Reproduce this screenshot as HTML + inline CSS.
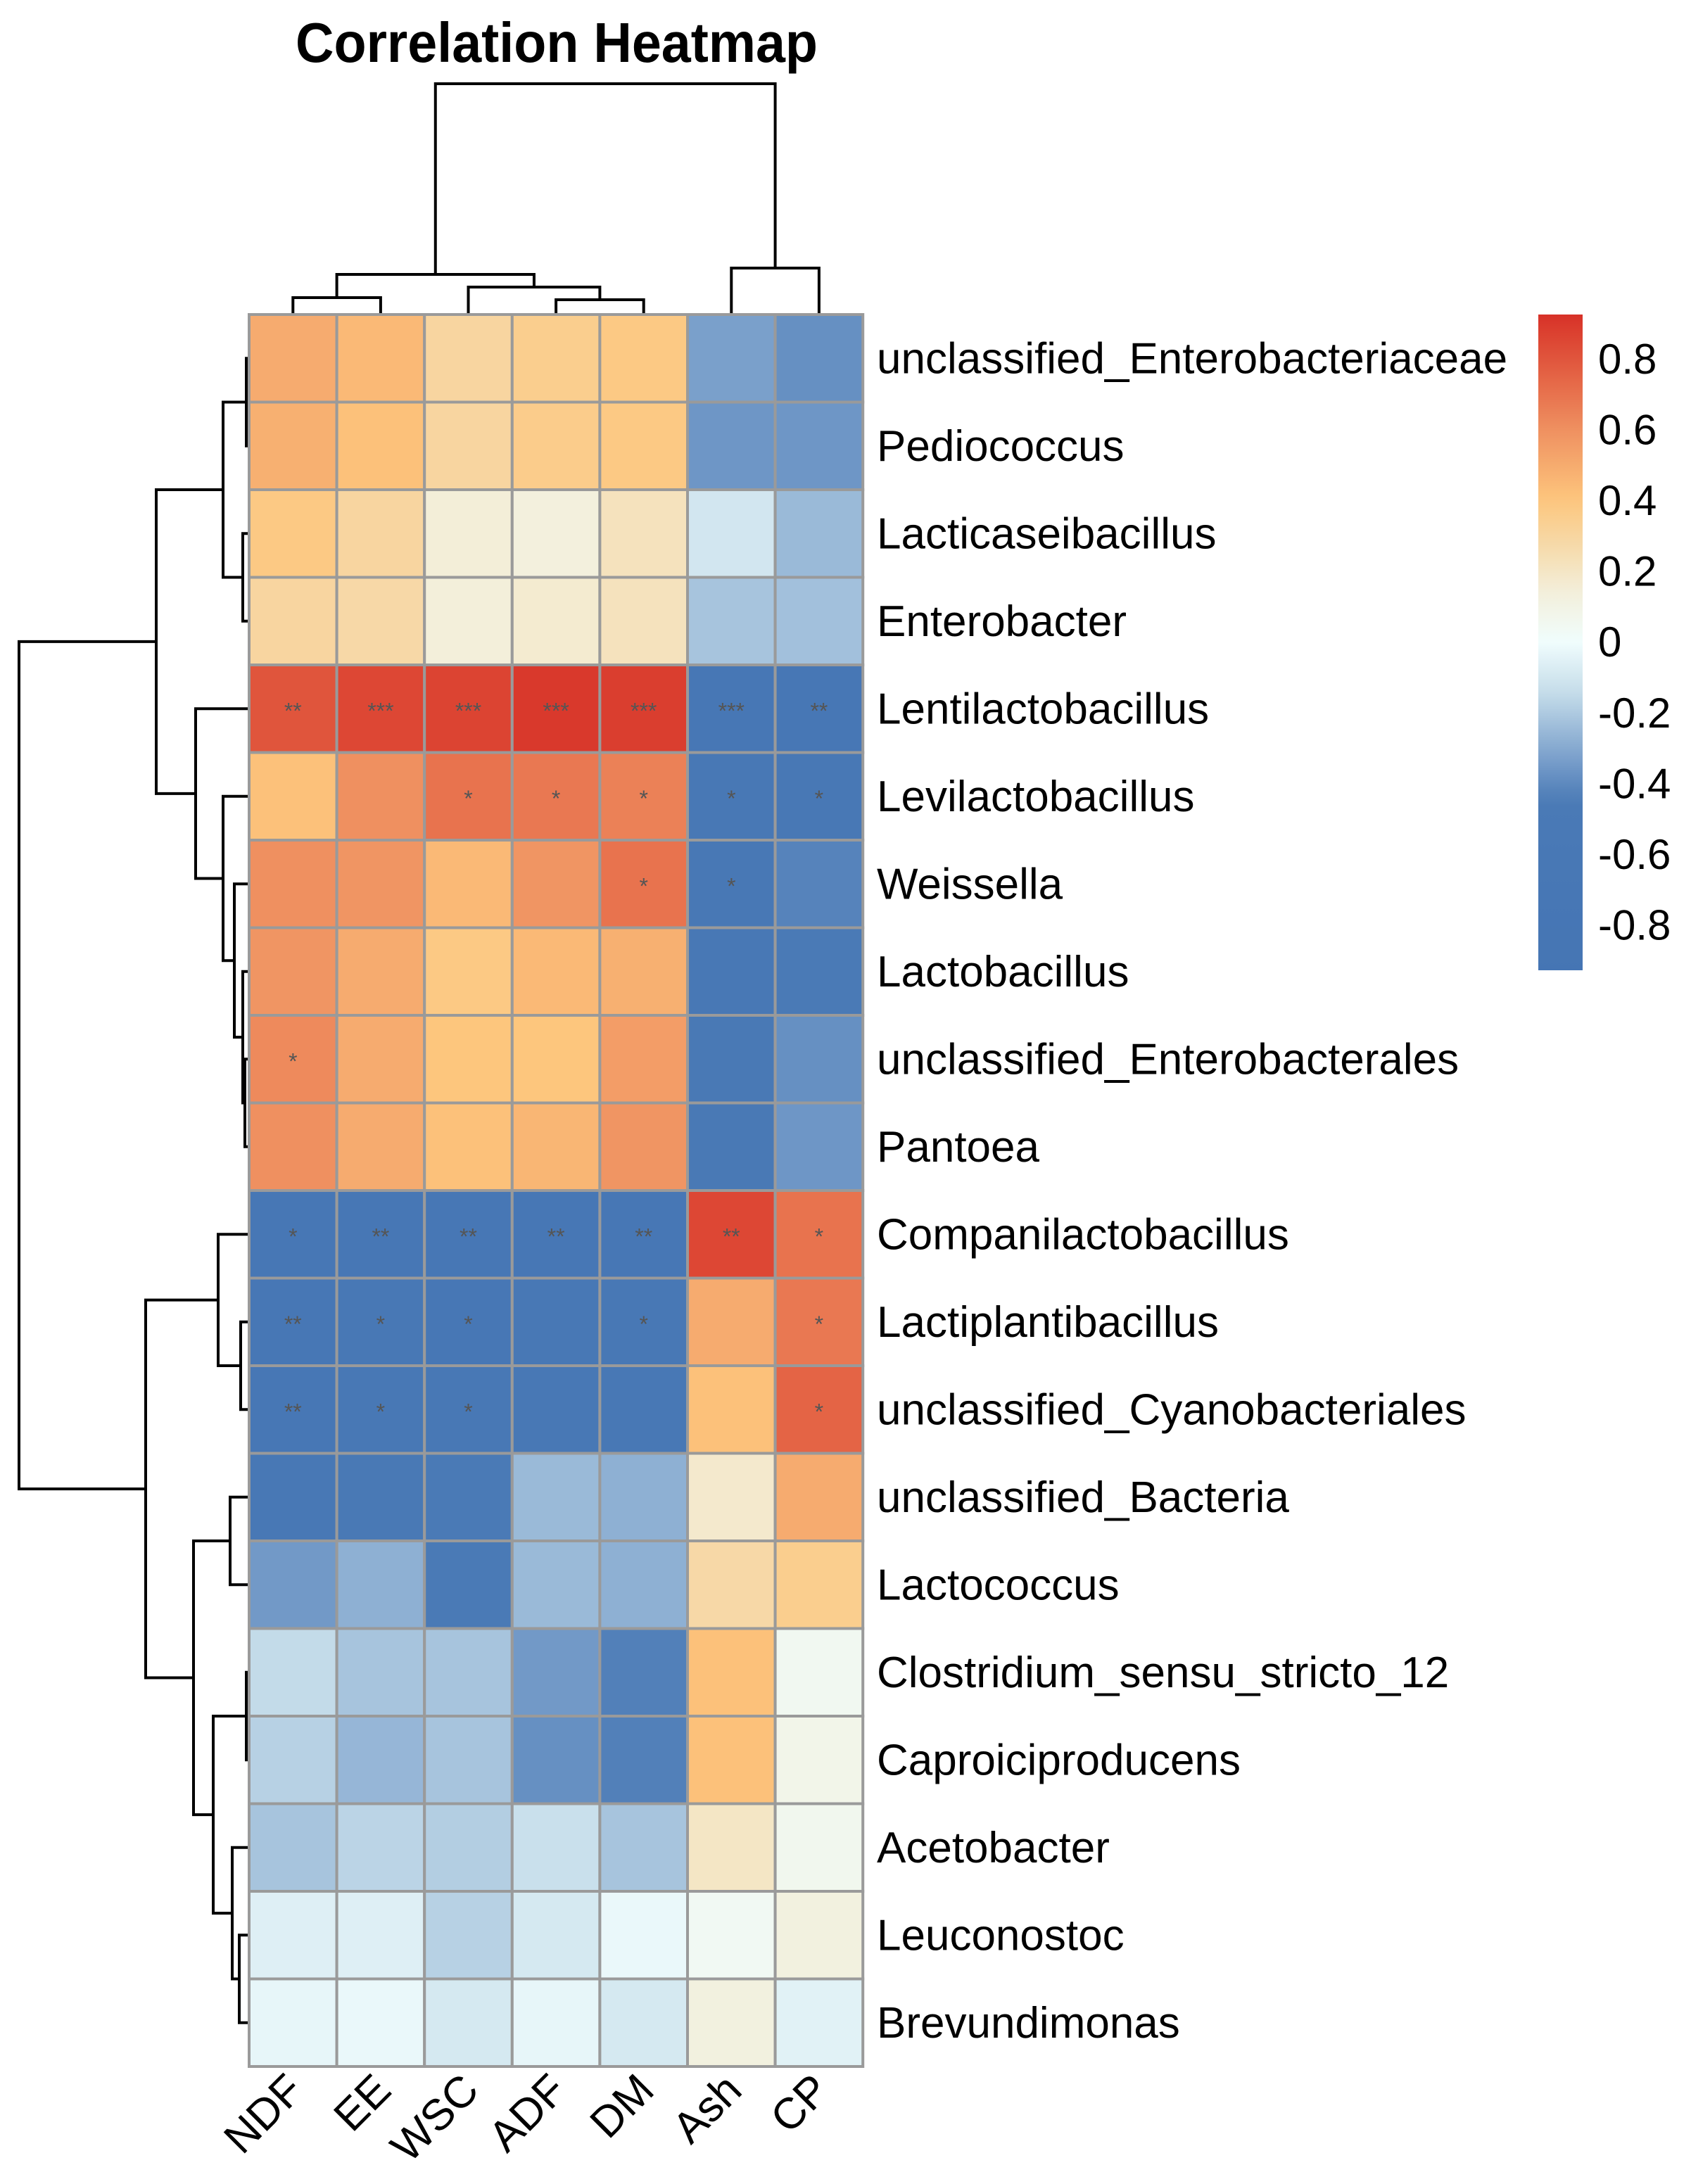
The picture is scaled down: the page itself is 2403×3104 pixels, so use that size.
<!DOCTYPE html>
<html><head><meta charset="utf-8"><style>
html,body{margin:0;padding:0;background:#fff}
svg{display:block;font-family:"Liberation Sans",Arial,sans-serif}
</style></head><body>
<svg id="chart" width="2403" height="3104" viewBox="0 0 2403 3104" xmlns="http://www.w3.org/2000/svg">
<text x="791" y="88" text-anchor="middle" font-size="80" font-weight="bold" textLength="742" lengthAdjust="spacingAndGlyphs">Correlation Heatmap</text>
<g id="dend" stroke="#000" stroke-width="4" fill="none"></g>
<g id="cells"></g>
<g id="labels"></g>
<g id="legend"></g>
</svg>
<script>
const cols = ["NDF","EE","WSC","ADF","DM","Ash","CP"];
const rows = ["unclassified_Enterobacteriaceae","Pediococcus","Lacticaseibacillus","Enterobacter","Lentilactobacillus","Levilactobacillus","Weissella","Lactobacillus","unclassified_Enterobacterales","Pantoea","Companilactobacillus","Lactiplantibacillus","unclassified_Cyanobacteriales","unclassified_Bacteria","Lactococcus","Clostridium_sensu_stricto_12","Caproiciproducens","Acetobacter","Leuconostoc","Brevundimonas"];
const values = [
[0.5,0.45,0.3,0.35,0.38,-0.33,-0.38],
[0.48,0.42,0.3,0.36,0.38,-0.36,-0.36],
[0.38,0.3,0.15,0.13,0.22,-0.1,-0.25],
[0.3,0.28,0.14,0.17,0.22,-0.22,-0.23],
[0.8,0.85,0.86,0.9,0.88,-0.75,-0.72],
[0.42,0.6,0.7,0.68,0.65,-0.6,-0.62],
[0.6,0.58,0.45,0.58,0.7,-0.62,-0.42],
[0.58,0.5,0.38,0.45,0.48,-0.6,-0.47],
[0.62,0.5,0.4,0.4,0.55,-0.58,-0.38],
[0.6,0.5,0.42,0.46,0.58,-0.58,-0.36],
[-0.7,-0.7,-0.72,-0.72,-0.7,0.85,0.7],
[-0.75,-0.68,-0.7,-0.65,-0.68,0.5,0.68],
[-0.72,-0.65,-0.68,-0.62,-0.62,0.42,0.75],
[-0.62,-0.58,-0.48,-0.25,-0.28,0.18,0.5],
[-0.35,-0.28,-0.45,-0.25,-0.28,0.28,0.35],
[-0.15,-0.22,-0.22,-0.35,-0.43,0.42,0.05],
[-0.18,-0.26,-0.22,-0.38,-0.43,0.42,0.08],
[-0.22,-0.17,-0.19,-0.13,-0.22,0.2,0.06],
[-0.06,-0.06,-0.18,-0.09,-0.02,0.04,0.12],
[-0.03,-0.02,-0.09,-0.03,-0.09,0.12,-0.05]];
const sig = [
["","","","","","",""],["","","","","","",""],["","","","","","",""],["","","","","","",""],
["**","***","***","***","***","***","**"],
["","","*","*","*","*","*"],
["","","","","*","*",""],
["","","","","","",""],
["*","","","","","",""],
["","","","","","",""],
["*","**","**","**","**","**","*"],
["**","*","*","","*","","*"],
["**","*","*","","","","*"],
["","","","","","",""],["","","","","","",""],["","","","","","",""],["","","","","","",""],["","","","","","",""],["","","","","","",""],["","","","","","",""]];
const legendTicks = [0.8,0.6,0.4,0.2,0,-0.2,-0.4,-0.6,-0.8];
const legendTickLabels = ["0.8","0.6","0.4","0.2","0","-0.2","-0.4","-0.6","-0.8"];
const rowMerges = [[0,1,4],[2,3,9],["n0","n1",37],[8,9,6],[7,"n3",9],[6,"n4",21],[5,"n5",37],[4,"n6",76],["n2","n7",132],
[11,12,12],[10,"n9",44],[13,14,27],[15,16,4],[18,19,14],[17,"n13",24],["n12","n14",51],["n11","n15",79],["n10","n16",147],["n8","n17",327]];
const colMerges = [[0,1,22],[3,4,19],[2,"n1",37],["n0","n2",55],[5,6,64],["n3","n4",326]];

const NS="http://www.w3.org/2000/svg";
const gx0=354, gy0=447, cw=124.6, ch=124.5;
const xS=i=>gx0+cw*i, yS=i=>gy0+ch*i;
const stops=[[-0.93,[69,117,180]],[-0.45,[74,122,182]],[-0.3,[134,169,208]],[-0.15,[195,219,233]],[0,[240,253,253]],[0.15,[243,238,216]],[0.27,[246,218,170]],[0.4,[253,198,125]],[0.6,[239,144,96]],[0.8,[224,85,60]],[0.93,[215,48,39]]];
function color(v){
 if(v<=stops[0][0])return `rgb(${stops[0][1]})`;
 for(let i=1;i<stops.length;i++){if(v<=stops[i][0]){const [a,ca]=stops[i-1],[b,cb]=stops[i];const t=(v-a)/(b-a);return `rgb(${ca.map((c,k)=>Math.round(c+(cb[k]-c)*t)).join(',')})`;}}
 return `rgb(${stops[stops.length-1][1]})`;
}
function mk(tag,attrs,parent){const e=document.createElementNS(NS,tag);for(const k in attrs)e.setAttribute(k,attrs[k]);parent.appendChild(e);return e;}
const cells=document.getElementById('cells'),labels=document.getElementById('labels'),legend=document.getElementById('legend'),dend=document.getElementById('dend');
rows.forEach((r,i)=>{cols.forEach((c,j)=>{
 const rc=mk('rect',{x:xS(j),y:yS(i),width:cw,height:ch,fill:color(values[i][j]),stroke:'#9a9a9a','stroke-width':4},cells);
 
 
 if(sig[i][j]){const t=mk('text',{x:xS(j)+cw/2,y:yS(i)+ch/2+14,'text-anchor':'middle','font-size':32,fill:'#555'},cells);t.textContent=sig[i][j];
 
 }
});
 const t=mk('text',{x:1246,y:yS(i)+ch/2+21,'font-size':62},labels);t.textContent=r;
 
 
});
cols.forEach((c,j)=>{const x=xS(j)+cw/2+18,y=2974;
 const t=mk('text',{x:x,y:y,'font-size':62,'text-anchor':'end',transform:`rotate(-45 ${x} ${y})`},labels);t.textContent=c;
 
 
});
function drawDend(merges,leafPos,base,dir){
 const nodes=[];
 const get=k=>typeof k==='number'?{p:leafPos(k),h:0}:nodes[+k.slice(1)];
 merges.forEach(m=>{const a=get(m[0]),b=get(m[1]),h=m[2];
  let d;
  if(dir==='row'){const xa=base-a.h,xb=base-b.h,xh=base-h;d=`M${xa} ${a.p}H${xh}V${b.p}H${xb}`;}
  else{const ya=base-a.h,yb=base-b.h,yh=base-h;d=`M${a.p} ${ya}V${yh}H${b.p}V${yb}`;}
  const p=mk('path',{d:d},dend);
  
  
  nodes.push({p:(a.p+b.p)/2,h:h});});
}
drawDend(rowMerges,i=>yS(i)+ch/2,354,'row');
drawDend(colMerges,j=>xS(j)+cw/2,445,'col');
const lx=2186,lw=63,ly0=447,ly1=1379,vTop=0.925,vBot=-0.928;
const lyS=v=>ly0+(vTop-v)/(vTop-vBot)*(ly1-ly0);
const defs=mk('defs',{},legend);const gr=mk('linearGradient',{id:'lg',x1:0,y1:0,x2:0,y2:1},defs);
for(let k=0;k<=40;k++){const v=vTop-(vTop-vBot)*k/40;mk('stop',{offset:k/40,'stop-color':color(v)},gr);}
const bar=mk('rect',{x:lx,y:ly0,width:lw,height:ly1-ly0,fill:'url(#lg)'},legend);


legendTicks.forEach((v,k)=>{const t=mk('text',{x:2271,y:lyS(v)+21,'font-size':60},legend);t.textContent=legendTickLabels[k];
 
 });
</script>
</body></html>
